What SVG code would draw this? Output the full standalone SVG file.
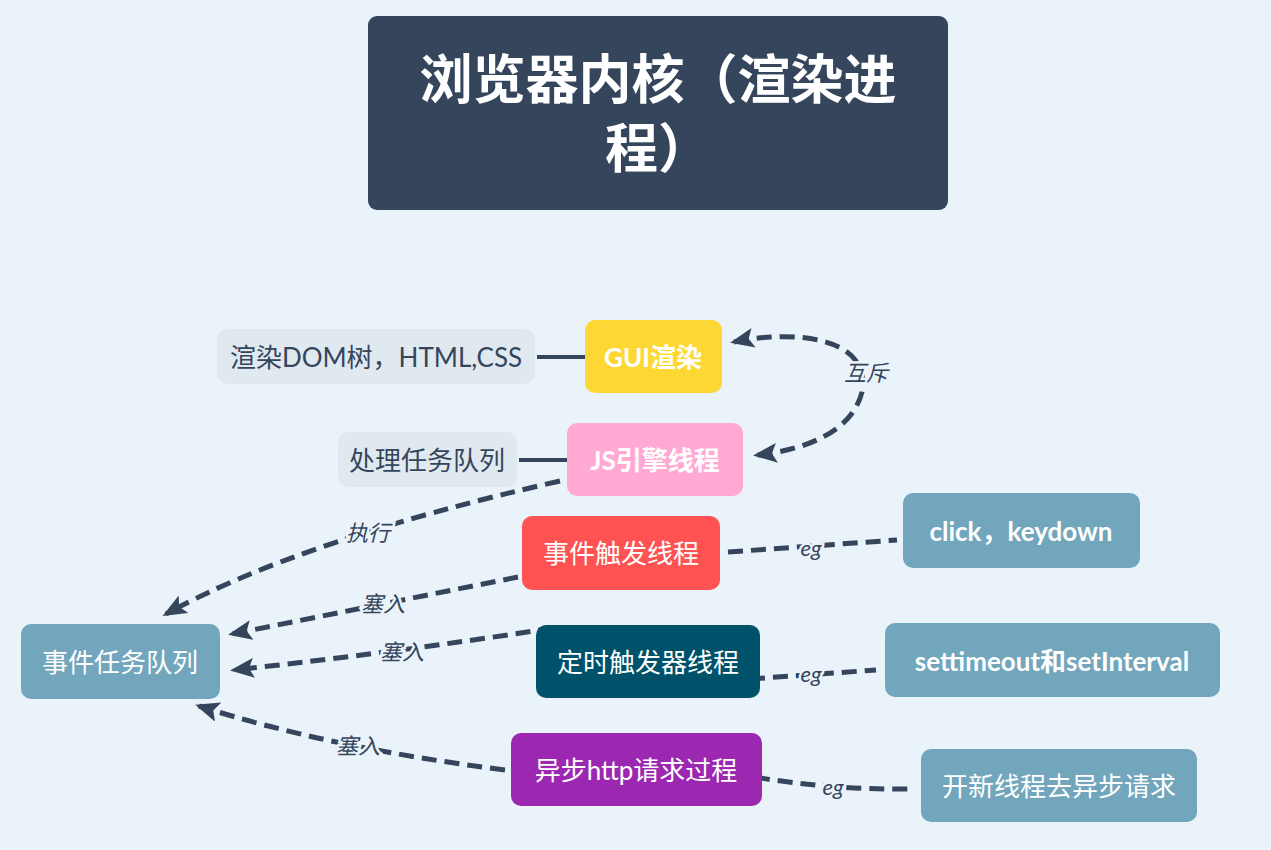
<svg xmlns="http://www.w3.org/2000/svg" width="1271" height="850" viewBox="0 0 1271 850">
<defs>
<style>
.t{font-family:"Lato","Noto Sans CJK SC",sans-serif;text-anchor:middle;dominant-baseline:central}
.w{fill:#ffffff;font-size:26px}
.b{font-weight:bold}
.d{fill:#34455C;font-size:26px}
.lbl{font-family:"Lato","Noto Sans CJK SC",sans-serif;font-style:italic;font-size:22px;fill:#34455C;text-anchor:middle;dominant-baseline:central;stroke:#EBF3FA;stroke-width:5px;paint-order:stroke}
.c{fill:none;stroke:#34455C;stroke-width:5;stroke-dasharray:15 8}
.s{fill:none;stroke:#34455C;stroke-width:4}
</style>
<marker id="arr" viewBox="0 0 24 20" refX="20" refY="10" markerWidth="24" markerHeight="20" markerUnits="userSpaceOnUse" orient="auto-start-reverse">
<path d="M0,0 L24,10 L0,20 L5,10 Z" fill="#34455C"/>
</marker>
</defs>
<rect width="1271" height="850" fill="#EBF3FA"/>

<g id="title">
<rect x="368" y="16" width="580" height="194" rx="9" fill="#34455C"/>
<text class="t b" x="658" y="78" fill="#fff" font-size="53">浏览器内核（渲染进</text>
<text class="t b" x="658" y="147" fill="#fff" font-size="53">程）</text>
</g>

<g id="connectors">
<line class="s" x1="537" y1="357" x2="585" y2="357"/>
<line class="s" x1="519" y1="460" x2="567" y2="460"/>
<path class="c" d="M734,342 C790,330 872,335 862,392 C852,432 805,450 757,455" marker-start="url(#arr)" marker-end="url(#arr)"/>
<path class="c" d="M560,481 Q300,540 166,614" marker-end="url(#arr)"/>
<path class="c" d="M518,577 L232,634" marker-end="url(#arr)"/>
<path class="c" d="M553,628 Q400,652 234,670" marker-end="url(#arr)"/>
<path class="c" d="M505,770 Q330,748 199,706" marker-end="url(#arr)"/>
<path class="c" d="M728,552 L897,540"/>
<path class="c" d="M750,679 L876,670"/>
<path class="c" d="M755,777 Q830,790 913,789"/>
<text class="lbl" x="866" y="372">互斥</text>
<text class="lbl" x="368" y="532">执行</text>
<text class="lbl" x="383" y="603">塞入</text>
<text class="lbl" x="402" y="651">塞入</text>
<text class="lbl" x="358" y="745">塞入</text>
<text class="lbl" x="811" y="547">eg</text>
<text class="lbl" x="811" y="673">eg</text>
<text class="lbl" x="833" y="786">eg</text>
</g>

<g id="gui">
<rect x="585" y="320" width="137" height="73" rx="10" fill="#FDD835"/>
<text class="t w b" x="653" y="357" font-size="24">GUI渲染</text>
</g>
<g id="gui-desc">
<rect x="217" y="329" width="318" height="55" rx="10" fill="#E1E9F0"/>
<text class="t d" x="376" y="357">渲染DOM树，HTML,CSS</text>
</g>
<g id="js">
<rect x="567" y="423" width="176" height="73" rx="10" fill="#FFA9D3"/>
<text class="t w b" x="655" y="460" font-size="24">JS引擎线程</text>
</g>
<g id="js-desc">
<rect x="338" y="432" width="179" height="55" rx="10" fill="#E1E9F0"/>
<text class="t d" x="427" y="460">处理任务队列</text>
</g>
<g id="event">
<rect x="522" y="516" width="198" height="74" rx="10" fill="#FF5252"/>
<text class="t w" x="621" y="553">事件触发线程</text>
</g>
<g id="event-eg">
<rect x="903" y="493" width="237" height="75" rx="10" fill="#72A6BD"/>
<text class="t w b" x="1021" y="531">click，keydown</text>
</g>
<g id="timer">
<rect x="536" y="625" width="224" height="73" rx="10" fill="#00526A"/>
<text class="t w" x="648" y="662">定时触发器线程</text>
</g>
<g id="timer-eg">
<rect x="885" y="623" width="335" height="74" rx="10" fill="#72A6BD"/>
<text class="t w b" x="1052" y="661">settimeout和setInterval</text>
</g>
<g id="queue">
<rect x="21" y="624" width="199" height="75" rx="10" fill="#72A6BD"/>
<text class="t w" x="120" y="662">事件任务队列</text>
</g>
<g id="http">
<rect x="511" y="733" width="251" height="73" rx="10" fill="#9C27B0"/>
<text class="t w" x="636" y="770">异步http请求过程</text>
</g>
<g id="http-eg">
<rect x="921" y="749" width="276" height="73" rx="10" fill="#72A6BD"/>
<text class="t w" x="1059" y="786">开新线程去异步请求</text>
</g>
</svg>
